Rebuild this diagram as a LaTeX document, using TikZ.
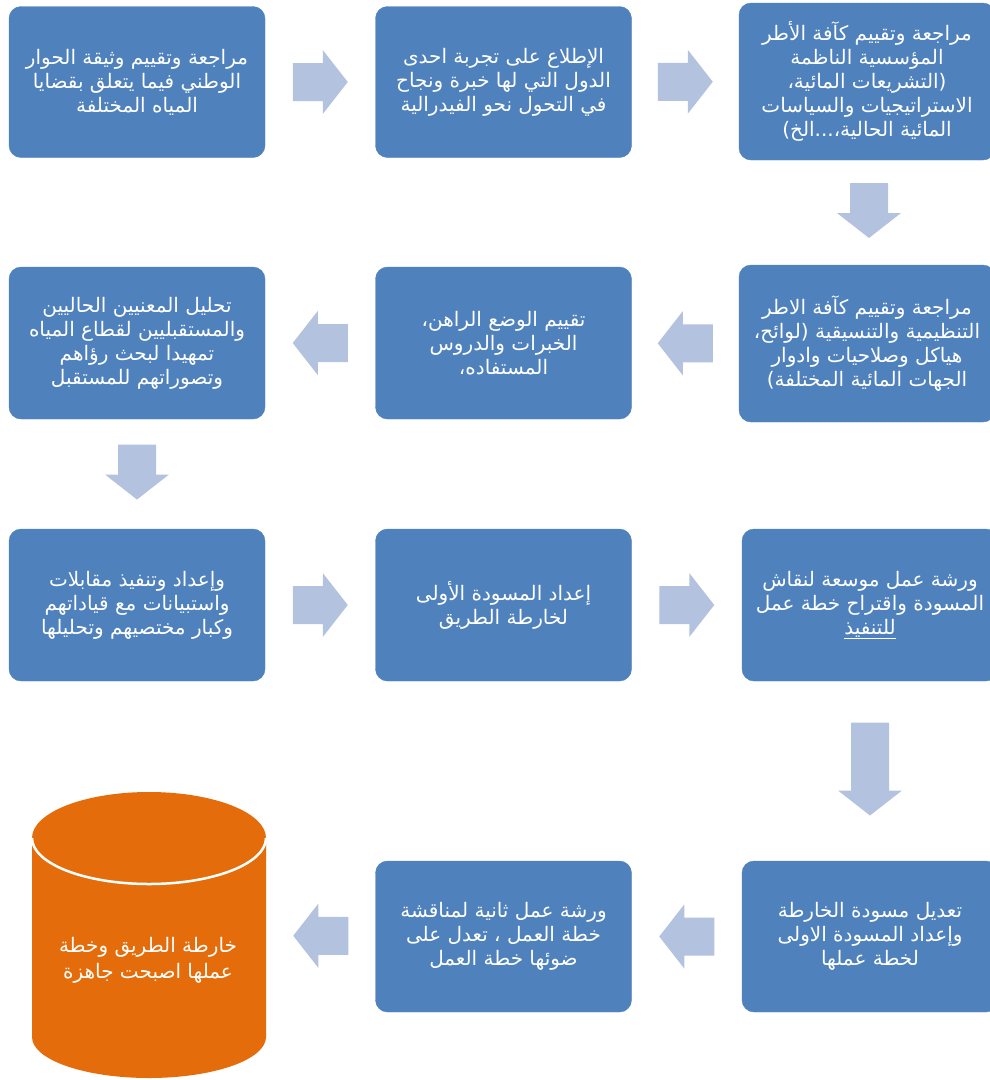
\documentclass[tikz,border=0pt]{standalone}
\usepackage{fontspec}
\newfontfamily\arabicfont[Script=Arabic]{DejaVu Sans}
\TeXXeTstate=1
\usetikzlibrary{calc}
\definecolor{boxblue}{HTML}{4F81BD}
\definecolor{arrowblue}{HTML}{B3C2DE}
\definecolor{canorange}{HTML}{E46C0A}
\tikzset{
  stepbox/.style={rectangle, rounded corners=12pt, fill=boxblue, draw=boxblue,
    minimum width=256pt, minimum height=151pt, inner sep=0pt, text=white,
    align=center, font=\arabicfont\fontsize{20}{24}\selectfont},
  cantext/.style={rectangle, minimum width=234pt, minimum height=286pt, inner sep=0pt},
  blockarrow/.style={fill=arrowblue},
}
\newcommand{\blockarr}[3]{%
  \begin{scope}[shift={#1},rotate=#2]
    \fill[blockarrow] ({-#3/2},-19) -- ({#3/2-25},-19) -- ({#3/2-25},-32) -- ({#3/2},0)
      -- ({#3/2-25},32) -- ({#3/2-25},19) -- ({-#3/2},19) -- cycle;
  \end{scope}}
\begin{document}
\begin{tikzpicture}[x=1pt,y=-1pt]
\useasboundingbox (0,0) rectangle (990,1080);
\fill[white] (0,0) rectangle (990,1080);
\clip (0,0) rectangle (990,1080);

% row 1
\node[stepbox] (b1) at (137,82) {\beginR مراجعة وتقييم وثيقة الحوار\endR\\\beginR الوطني فيما يتعلق بقضايا\endR\\\beginR المياه المختلفة\endR};
\node[stepbox] (b2) at (503.5,82) {\beginR الإطلاع على تجربة احدى\endR\\\beginR الدول التي لها خبرة ونجاح\endR\\\beginR في التحول نحو الفيدرالية\endR};
\node[stepbox, minimum height=157pt] (b3) at (867,81.5) {\beginR مراجعة وتقييم كآفة الأطر\endR\\\beginR المؤسسية الناظمة\endR\\\beginR (التشريعات المائية،\endR\\\beginR الاستراتيجيات والسياسات\endR\\\beginR المائية الحالية،...الخ)\endR};

% row 2
\node[stepbox, minimum height=157pt] (b6) at (867,343.5) {\beginR مراجعة وتقييم كآفة الاطر\endR\\\beginR التنظيمية والتنسيقية (لوائح،\endR\\\beginR هياكل وصلاحيات وادوار\endR\\\beginR الجهات المائية المختلفة)\endR};
\node[stepbox, minimum height=152pt] (b5) at (503.5,343) {\beginR تقييم الوضع الراهن،\endR\\\beginR الخبرات والدروس\endR\\\beginR المستفاده،\endR};
\node[stepbox, minimum height=152pt] (b4) at (137,343) {\beginR تحليل المعنيين الحاليين\endR\\\beginR والمستقبليين لقطاع المياه\endR\\\beginR تمهيدا لبحث رؤاهم\endR\\\beginR وتصوراتهم للمستقبل\endR};

% row 3
\node[stepbox, minimum height=152pt] (b7) at (137,605) {\beginR وإعداد وتنفيذ مقابلات\endR\\\beginR واستبيانات مع قياداتهم\endR\\\beginR وكبار مختصيهم وتحليلها\endR};
\node[stepbox, minimum height=152pt] (b8) at (503.5,605) {\beginR إعداد المسودة الأولى\endR\\\beginR لخارطة الطريق\endR};
\node[stepbox, minimum height=152pt] (b9) at (870,605) {\beginR ورشة عمل موسعة لنقاش\endR\\\beginR المسودة واقتراح خطة عمل\endR\\\beginR\underline{للتنفيذ}\endR};

% row 4
\node[stepbox] (b10) at (870,936.5) {\beginR تعديل مسودة الخارطة\endR\\\beginR وإعداد المسودة الاولى\endR\\\beginR لخطة عملها\endR};
\node[stepbox] (b11) at (503.5,936.5) {\beginR ورشة عمل ثانية لمناقشة\endR\\\beginR خطة العمل ، تعدل على\endR\\\beginR ضوئها خطة العمل\endR};

% cylinder
\fill[canorange] (32,840) -- (32,1037) arc[start angle=180, end angle=360, x radius=117, y radius=-41] -- (266,840) -- cycle;
\fill[canorange] (149,838) ellipse[x radius=117, y radius=46];
\draw[white, line width=2.5pt] (32,838) arc[start angle=180, end angle=360, x radius=117, y radius=-46];
\node[cantext] (cyl) at (149,935) {};
\node[text=white, align=center, font=\arabicfont\fontsize{20}{26}\selectfont] (cyltext) at (148,960) {\beginR خارطة الطريق وخطة\endR\\\beginR عملها اصبحت جاهزة\endR};

% block arrows
\blockarr{($(b1.east)!0.5!(b2.west)$)}{0}{55}
\blockarr{($(b2.east)!0.5!(b3.west)$)}{0}{55}
\blockarr{($(b3.south)!0.5!(b6.north)+(2,-2)$)}{-90}{55}
\blockarr{($(b6.west)!0.5!(b5.east)$)}{180}{55}
\blockarr{($(b5.west)!0.5!(b4.east)$)}{180}{55}
\blockarr{($(b4.south)!0.5!(b7.north)+(0,-2)$)}{-90}{55}
\blockarr{($(b7.east)!0.5!(b8.west)$)}{0}{55}
\blockarr{($(b8.east)!0.5!(b9.west)$)}{0}{55}
\blockarr{($(b9.south)!0.5!(b10.north)+(0,-2)$)}{-90}{93}
\blockarr{($(b10.west)!0.5!(b11.east)$)}{180}{55}
\blockarr{($(b11.west)!0.5!(cyl.east)$)}{180}{55}
\end{tikzpicture}
\end{document}
